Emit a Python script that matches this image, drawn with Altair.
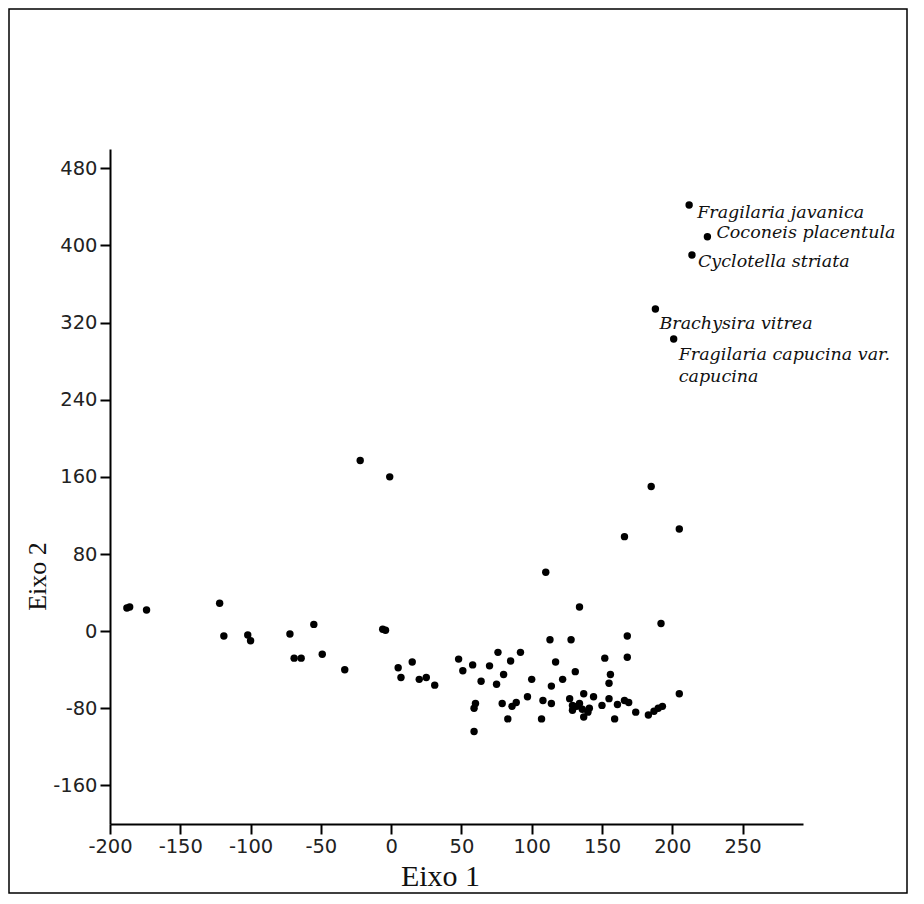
import altair as alt
import pandas as pd

# ---- data ----
eixo1 = [-188, -186, -174, -122, -119, -102, -100, -72, -55, -69, -64, -49, -33, -6, -4,
         5, 15, 7, 20, 25, 31, 48, 51, 58, 76, 92, 85, 70, 80, 64,
         75, 100, 60, 59, 79, 89, 86, 97, 83, 59, 107, 108,
         110, 134, 192, 168, 113, 128, 117, 152, 168, 131, 122, 156, 155, 114,
         205, 114, 127, 137, 144, 129, 134, 129, 136, 141, 137, 150, 155, 161,
         166, 169, 159, 174, 183, 187, 190, 193, 166, 185, 205, -22, -1, 132, 140]
eixo2 = [24, 25, 22, 29, -5, -4, -10, -3, 7, -28, -28, -24, -40, 2, 1,
         -38, -32, -48, -50, -48, -56, -29, -41, -35, -22, -22, -31, -36, -45, -52,
         -55, -50, -75, -80, -75, -74, -78, -68, -91, -104, -91, -72,
         61, 25, 8, -5, -9, -9, -32, -28, -27, -42, -50, -45, -54, -57,
         -65, -75, -70, -65, -68, -77, -75, -82, -81, -80, -89, -77, -70, -76,
         -72, -74, -91, -84, -87, -83, -80, -78, 98, 150, 106, 177, 160, -78, -84]

species = ["Fragilaria javanica", "Coconeis placentula", "Cyclotella striata",
           "Brachysira vitrea", "Fragilaria capucina var.\ncapucina"]
species_x = [212, 225, 214, 188, 201]
species_y = [442, 409, 390, 334, 303]

x_ticks = [-200, -150, -100, -50, 0, 50, 100, 150, 200, 250]
y_ticks = [-160, -80, 0, 80, 160, 240, 320, 400, 480]

# label offsets (style, pixels)
label_offsets = [(8, 8), (9, -4), (6, 7), (4, 15), (5, 16)]

pts = pd.DataFrame({"Eixo 1": eixo1, "Eixo 2": eixo2})
sp = pd.DataFrame({"Eixo 1": species_x, "Eixo 2": species_y, "especie": species})

PW, PH = 693, 675

xs = alt.Scale(domain=[-200, 293], nice=False, zero=False)
ys = alt.Scale(domain=[-200, 500], nice=False, zero=False)

minus_fix = "replace(datum.label, '\u2212', '-')"

x_axis = alt.Axis(values=x_ticks, title="Eixo 1", grid=False, labelExpr=minus_fix,
                  labelFlush=False,
                  titleFont="Liberation Serif", titleFontSize=30, titleFontWeight="normal",
                  titleColor="#111", titleX=330, titleY=52, titleAlign="center",
                  titleBaseline="middle", titleAnchor="start")
y_axis = alt.Axis(values=y_ticks, title="Eixo 2", grid=False, labelExpr=minus_fix,
                  labelFlush=False,
                  titleFont="Liberation Serif", titleFontSize=26, titleFontWeight="normal",
                  titleColor="#111", titleX=-73, titleY=427, titleAlign="center",
                  titleBaseline="middle", titleAngle=-90, titleAnchor="start")

points = alt.Chart(pts).mark_circle(size=55, color="#000", opacity=1).encode(
    x=alt.X("Eixo 1:Q", scale=xs, axis=x_axis),
    y=alt.Y("Eixo 2:Q", scale=ys, axis=y_axis),
)

sp_points = alt.Chart(sp).mark_circle(size=55, color="#000", opacity=1).encode(
    x=alt.X("Eixo 1:Q", scale=xs),
    y=alt.Y("Eixo 2:Q", scale=ys),
)

label_layers = []
for name, (dx, dy) in zip(species, label_offsets):
    label_layers.append(
        alt.Chart(sp).transform_filter(alt.datum.especie == name).mark_text(
            align="left", baseline="middle", dx=dx, dy=dy,
            font="DejaVu Serif", fontStyle="italic", fontSize=17.5,
            lineBreak="\n", lineHeight=22, color="#111",
        ).encode(
            x=alt.X("Eixo 1:Q", scale=xs),
            y=alt.Y("Eixo 2:Q", scale=ys),
            text="especie:N",
        )
    )

frame = alt.Chart(pd.DataFrame({"k": [0]})).mark_rect(
    fillOpacity=0, stroke="#000", strokeWidth=1.5, clip=False
).encode(
    x=alt.value(-101), x2=alt.value(797), y=alt.value(-140), y2=alt.value(744)
)

chart = alt.layer(frame, points, sp_points, *label_layers).properties(
    width=PW, height=PH,
    padding={"left": 102, "top": 141, "right": 105, "bottom": 70},
    autosize=alt.AutoSizeParams(type="none"),
    background="white",
).configure_view(stroke=None).configure_axis(
    domainColor="#000", domainWidth=2, tickColor="#000", tickWidth=2, tickSize=10,
    labelFont="DejaVu Sans", labelFontSize=19.5, labelColor="#222", labelPadding=3,
)

chart.save("out.html", embed_options={"renderer": "svg", "actions": False})
